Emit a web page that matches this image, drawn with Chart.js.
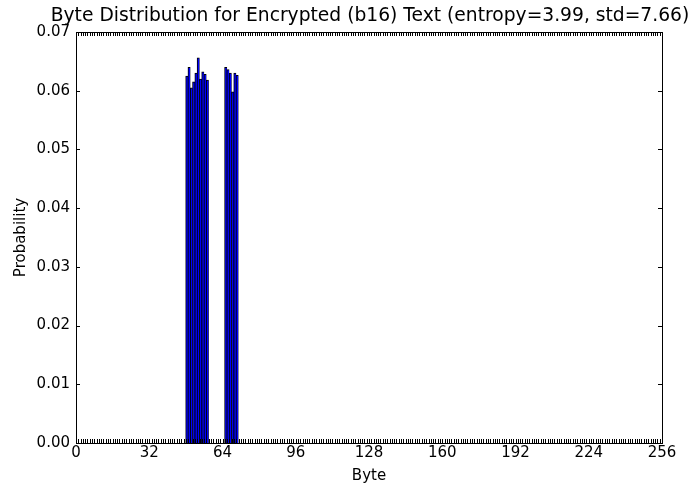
<!DOCTYPE html>
<html>
<head>
<meta charset="utf-8">
<script src="https://cdn.jsdelivr.net/npm/chart.js@4.4.1/dist/chart.umd.min.js"></script>
<style>
    html, body { margin: 0; padding: 0; background: #ffffff; }
    canvas { display: block; }
</style>
</head>
<body>
<canvas id="graficoBytes" width="695" height="485"></canvas>
<script>
// Bytes presentes en el texto codificado en b16 ('0'-'9' y 'A'-'F')
const bytes = [48, 49, 50, 51, 52, 53, 54, 55, 56, 57, 65, 66, 67, 68, 69, 70];
const probabilidades = [0.0625, 0.0640, 0.0605, 0.0615, 0.0630, 0.0656, 0.0620, 0.0632, 0.0628, 0.0618,
    0.0640, 0.0636, 0.0630, 0.0598, 0.0630, 0.0626];
const ticksX = [0, 32, 64, 96, 128, 160, 192, 224, 256];
const ticksY = [0, 0.01, 0.02, 0.03, 0.04, 0.05, 0.06, 0.07];
const titulo = 'Byte Distribution for Encrypted (b16) Text (entropy=3.99, std=7.66)';

const fuente = 'DejaVu Sans';

/**
 * Dibuja el marco del gráfico y las marcas hacia adentro (estilo matplotlib clásico)
 */
const marcoPlugin = {
    id: 'marco',
    afterDatasetsDraw(chart) {
        const ctx = chart.ctx;
        const area = chart.chartArea;
        const x = chart.scales.x;
        const y = chart.scales.y;
        ctx.save();
        ctx.strokeStyle = '#000000';
        ctx.lineWidth = 1;
        ctx.beginPath();
        // marcas del eje x en cada byte, abajo y arriba
        for (let v = x.min; v <= x.max; v++) {
            const px = Math.round(x.getPixelForValue(v)) + 0.5;
            ctx.moveTo(px, area.bottom);
            ctx.lineTo(px, area.bottom - 4);
            ctx.moveTo(px, area.top);
            ctx.lineTo(px, area.top + 4);
        }
        ticksY.forEach(v => {
            const py = Math.round(y.getPixelForValue(v)) + 0.5;
            ctx.moveTo(area.left, py);
            ctx.lineTo(area.left + 4, py);
            ctx.moveTo(area.right, py);
            ctx.lineTo(area.right - 4, py);
        });
        ctx.stroke();
        ctx.strokeRect(Math.round(area.left) + 0.5, Math.round(area.top) + 0.5,
            Math.round(area.right - area.left), Math.round(area.bottom - area.top));
        ctx.restore();
    },
    // el título va centrado sobre el área del gráfico, como en matplotlib
    afterDraw(chart) {
        const ctx = chart.ctx;
        const area = chart.chartArea;
        ctx.save();
        ctx.fillStyle = '#000000';
        ctx.font = '18.7px "' + fuente + '"';
        ctx.textAlign = 'center';
        ctx.textBaseline = 'alphabetic';
        ctx.fillText(titulo, (area.left + area.right) / 2 + 1, area.top - 11);
        ctx.restore();
    }
};

document.addEventListener('DOMContentLoaded', function () {
    const ctx = document.getElementById('graficoBytes').getContext('2d');
    // matplotlib antiguo: barras alineadas al borde izquierdo, ancho 0.8 (más el borde negro)
    const puntos = bytes.map((b, i) => ({ x: b + 0.4, y: probabilidades[i] }));

    new Chart(ctx, {
        type: 'bar',
        data: {
            datasets: [{
                data: puntos,
                backgroundColor: '#0000ff',
                borderColor: '#000000',
                borderWidth: { top: 1, left: 1, right: 0.5, bottom: 0 },
                borderSkipped: false,
                barPercentage: 1.0,
                categoryPercentage: 1.0
            }]
        },
        options: {
            responsive: false,
            animation: false,
            devicePixelRatio: 1,
            layout: {
                padding: { left: 0, right: 33, top: 32, bottom: 0 }
            },
            plugins: {
                legend: { display: false },
                tooltip: { enabled: false },
                title: { display: false }
            },
            scales: {
                x: {
                    type: 'linear',
                    min: 0,
                    max: 256,
                    offset: false,
                    grid: { display: false, drawTicks: false },
                    border: { display: false },
                    afterBuildTicks: function (scale) {
                        scale.ticks = ticksX.map(v => ({ value: v }));
                    },
                    afterFit: function (scale) {
                        scale.height = 42;
                    },
                    ticks: {
                        color: '#000000',
                        padding: 1,
                        maxRotation: 0,
                        autoSkip: false,
                        font: { family: fuente, size: 15 },
                        callback: function (value) {
                            return String(value);
                        }
                    },
                    title: {
                        display: true,
                        text: 'Byte',
                        color: '#000000',
                        font: { family: fuente, size: 15 },
                        padding: { top: 5, bottom: 0 }
                    }
                },
                y: {
                    min: 0,
                    max: 0.07,
                    grid: { display: false, drawTicks: false },
                    border: { display: false },
                    afterBuildTicks: function (scale) {
                        scale.ticks = ticksY.map(v => ({ value: v }));
                    },
                    afterFit: function (scale) {
                        scale.width = 76;
                    },
                    ticks: {
                        color: '#000000',
                        padding: 6,
                        autoSkip: false,
                        font: { family: fuente, size: 15 },
                        callback: function (value) {
                            return value.toFixed(2);
                        }
                    },
                    title: {
                        display: true,
                        text: 'Probability',
                        color: '#000000',
                        font: { family: fuente, size: 15 },
                        padding: { top: 12, bottom: 0 }
                    }
                }
            }
        },
        plugins: [marcoPlugin]
    });
});
</script>
</body>
</html>
